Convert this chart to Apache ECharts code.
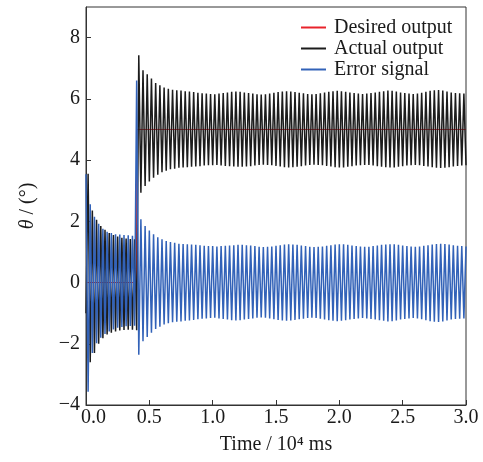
<!DOCTYPE html>
<html>
<head>
<meta charset="utf-8">
<script src="https://cdn.jsdelivr.net/npm/echarts@6/dist/echarts.min.js"></script>
<style>
html,body{margin:0;padding:0;background:#fff;}
#chart{width:483px;height:462px;}
</style>
</head>
<body>
<div id="chart"></div>
<script>
// ---- data (unit: 10^4 ms, degrees) ----
const sampleStep = 0.4 / 24;          // time between successive extrema
const xTicks = [0, 0.5, 1.0, 1.5, 2.0, 2.5, 3.0];
const yTicks = [-4, -2, 0, 2, 4, 6, 8];

const desiredTimes  = [0, 0.4, 0.4, 3.0];
const desiredValues = [0, 0, 5, 5];

// actual output: successive extrema (peak/trough)
const actualValues = [
  -1.0, 3.55, -2.6, 2.35, -2.3, 2.05, -2.0, 1.85, -1.82, 1.72, -1.7, 1.62, -1.64,
  1.55, -1.6, 1.5, -1.57, 1.46, -1.55, 1.44, -1.54, 1.42, -1.54, 1.41, -1.56,
  7.42, 2.93, 6.93, 3.15, 6.80, 3.30, 6.66, 3.42, 6.52, 3.52, 6.44, 3.60,
  6.37, 3.65, 6.33, 3.70, 6.30, 3.72, 6.28, 3.75, 6.27, 3.76, 6.25, 3.77,
  6.24, 3.78, 6.22, 3.79, 6.20, 3.80, 6.18, 3.82, 6.17, 3.83, 6.16, 3.83,
  6.15, 3.84, 6.17, 3.82, 6.19, 3.81, 6.21, 3.80, 6.23, 3.79, 6.24, 3.78,
  6.23, 3.78, 6.21, 3.79, 6.19, 3.80, 6.17, 3.82, 6.15, 3.84, 6.14, 3.85,
  6.15, 3.84, 6.17, 3.83, 6.20, 3.81, 6.22, 3.79, 6.24, 3.77, 6.25, 3.76,
  6.24, 3.77, 6.22, 3.78, 6.20, 3.80, 6.18, 3.82, 6.16, 3.84, 6.15, 3.85,
  6.16, 3.84, 6.18, 3.83, 6.21, 3.81, 6.23, 3.79, 6.25, 3.77, 6.26, 3.76,
  6.25, 3.76, 6.23, 3.78, 6.21, 3.80, 6.19, 3.82, 6.17, 3.83, 6.16, 3.84,
  6.17, 3.84, 6.19, 3.82, 6.21, 3.80, 6.23, 3.78, 6.25, 3.77, 6.27, 3.76,
  6.26, 3.76, 6.24, 3.78, 6.21, 3.80, 6.19, 3.82, 6.17, 3.83, 6.16, 3.84,
  6.17, 3.83, 6.20, 3.81, 6.23, 3.79, 6.26, 3.77, 6.28, 3.75, 6.29, 3.74,
  6.27, 3.75, 6.24, 3.77, 6.21, 3.79, 6.19, 3.81, 6.18, 3.82, 6.17, 3.83
];

// error signal: successive extrema
const errorValues = [
  3.54, -3.57, 2.56, -2.3, 2.15, -1.98, 1.92, -1.8, 1.76, -1.68, 1.66, -1.6, 1.62,
  -1.53, 1.58, -1.48, 1.57, -1.45, 1.55, -1.43, 1.54, -1.42, 1.53, -1.41, 6.6,
  -2.36, 2.07, -1.92, 1.85, -1.78, 1.70, -1.64, 1.58, -1.52, 1.48, -1.44, 1.41,
  -1.37, 1.36, -1.33, 1.32, -1.30, 1.30, -1.28, 1.27, -1.27, 1.26, -1.25, 1.25,
  -1.24, 1.24, -1.22, 1.23, -1.20, 1.22, -1.18, 1.20, -1.17, 1.19, -1.16, 1.19,
  -1.15, 1.18, -1.17, 1.19, -1.19, 1.20, -1.21, 1.21, -1.23, 1.22, -1.24, 1.23,
  -1.23, 1.23, -1.21, 1.22, -1.19, 1.21, -1.17, 1.19, -1.15, 1.17, -1.14, 1.16,
  -1.15, 1.17, -1.17, 1.18, -1.20, 1.20, -1.22, 1.22, -1.24, 1.24, -1.25, 1.25,
  -1.24, 1.24, -1.22, 1.23, -1.20, 1.21, -1.18, 1.19, -1.16, 1.17, -1.15, 1.16,
  -1.16, 1.17, -1.18, 1.18, -1.21, 1.20, -1.23, 1.22, -1.25, 1.24, -1.26, 1.25,
  -1.25, 1.25, -1.23, 1.23, -1.21, 1.21, -1.19, 1.19, -1.17, 1.18, -1.16, 1.17,
  -1.17, 1.17, -1.19, 1.19, -1.21, 1.21, -1.23, 1.23, -1.25, 1.24, -1.27, 1.25,
  -1.26, 1.25, -1.24, 1.23, -1.21, 1.21, -1.19, 1.19, -1.17, 1.18, -1.16, 1.17,
  -1.17, 1.18, -1.20, 1.20, -1.23, 1.22, -1.26, 1.24, -1.28, 1.26, -1.29, 1.27,
  -1.27, 1.26, -1.24, 1.24, -1.21, 1.22, -1.19, 1.20, -1.18, 1.19, -1.17, 1.18
];

const seriesNames = ['Desired output', 'Actual output', 'Error signal'];
const seriesColors = ['#e8232b', '#1c1c1c', '#3262b8'];

// ---- build ----
const toPairs = vals => vals.map((v, i) => [i * sampleStep, v]);
const desiredData = desiredTimes.map((t, i) => [t, desiredValues[i]]);

const FONT = '"Liberation Serif", "Times New Roman", serif';
const chart = echarts.init(document.getElementById('chart'), null, {renderer: 'canvas'});
chart.setOption({
  animation: false,
  backgroundColor: '#fff',
  textStyle: {fontFamily: FONT},
  grid: {left: 86, right: 17, top: 7, bottom: 57, show: true, borderColor: '#333', borderWidth: 1, backgroundColor: 'transparent'},
  legend: {
    orient: 'vertical', left: 296, top: 12,
    itemWidth: 25, itemHeight: 2, itemGap: 0,
    icon: 'rect',
    data: seriesNames,
    textStyle: {fontFamily: FONT, fontSize: 20, color: '#1a1a1a', lineHeight: 21, padding: [0, 0, 0, 3]}
  },
  xAxis: {
    type: 'value', min: xTicks[0], max: xTicks[xTicks.length - 1], interval: 0.5,
    splitLine: {show: false},
    axisLine: {show: true, onZero: false, lineStyle: {color: '#333', width: 1}},
    axisTick: {show: true, inside: true, length: 5, lineStyle: {color: '#333'}},
    axisLabel: {
      fontFamily: FONT, fontSize: 20, color: '#1a1a1a', margin: 3,
      formatter: v => v === 0 ? '{f|0.0}' : v.toFixed(1),
      rich: {f: {fontFamily: FONT, fontSize: 20, color: '#1a1a1a', padding: [0, 0, 0, 15]}}
    },
    name: 'Time / 10⁴ ms', nameLocation: 'middle', nameGap: 30,
    nameTextStyle: {fontFamily: FONT, fontSize: 20, color: '#1a1a1a'}
  },
  yAxis: {
    type: 'value', min: yTicks[0], max: 9, interval: 2,
    splitLine: {show: false},
    axisLine: {show: true, onZero: false, lineStyle: {color: '#333', width: 1}},
    axisTick: {show: true, inside: true, length: 5, lineStyle: {color: '#333'}},
    axisLabel: {
      fontFamily: FONT, fontSize: 20, color: '#1a1a1a', margin: 6, showMaxLabel: false,
      formatter: v => (yTicks.indexOf(v) >= 0 ? (v < 0 ? '\u2212' + Math.abs(v) : String(v)) : '')
    },
    name: '{i|θ}{n| / (°)}', nameLocation: 'middle', nameGap: 48, nameRotate: 90,
    nameTextStyle: {
      fontFamily: FONT, fontSize: 20, color: '#1a1a1a',
      rich: {
        i: {fontFamily: FONT, fontSize: 20, fontStyle: 'italic', color: '#1a1a1a'},
        n: {fontFamily: FONT, fontSize: 20, color: '#1a1a1a'}
      }
    }
  },
  series: [
    {name: seriesNames[0], type: 'line', data: desiredData, showSymbol: false, symbol: 'none',
     lineStyle: {color: seriesColors[0], width: 1}, itemStyle: {color: seriesColors[0]}, z: 1},
    {name: seriesNames[1], type: 'line', data: toPairs(actualValues), showSymbol: false, symbol: 'none',
     lineStyle: {color: seriesColors[1], width: 1.5}, itemStyle: {color: seriesColors[1]}, z: 2},
    {name: seriesNames[2], type: 'line', data: toPairs(errorValues), showSymbol: false, symbol: 'none',
     lineStyle: {color: seriesColors[2], width: 1.5}, itemStyle: {color: seriesColors[2]}, z: 3}
  ]
});
</script>
</body>
</html>
